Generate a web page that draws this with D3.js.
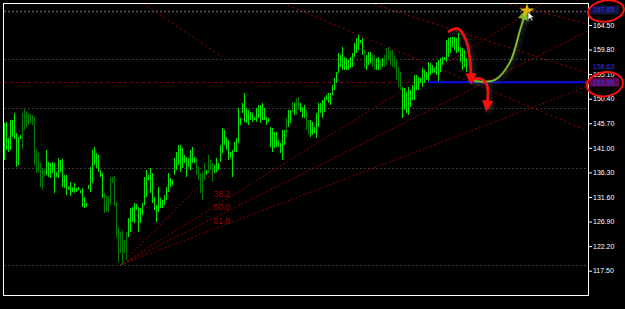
<!DOCTYPE html>
<html>
<head>
<meta charset="utf-8">
<script src="https://cdn.jsdelivr.net/npm/d3@7"></script>
<style>
  html, body { margin: 0; padding: 0; background: #000; }
  svg { display: block; }
</style>
</head>
<body>
<div id="chart"></div>
<script>
// price bars, one every 2px
var barHigh = [
  145.8,145.9,142.9,146.3,146.3,147.7,143.8,143.1,143.5,147.7,
  148.4,148.0,147.7,147.5,147.3,146.9,140.6,140.0,138.1,137.1,
  136.8,140.6,138.3,138.1,138.3,138.1,136.4,139.1,138.7,138.9,
  135.8,135.8,133.5,134.5,133.5,134.3,133.3,133.5,132.9,133.3,
  131.6,130.4,133.9,137.3,140.6,141.2,140.0,139.6,136.8,136.2,
  132.4,131.8,131.8,135.4,135.4,135.6,130.6,125.9,124.9,125.3,
  123.4,124.9,127.6,129.5,129.7,130.4,130.3,129.7,129.5,130.4,
  135.4,136.8,135.8,137.1,136.2,131.6,130.1,133.5,131.4,131.0,
  132.0,133.5,136.2,135.2,134.9,139.1,140.2,141.5,141.5,141.0,
  139.6,139.3,139.1,140.6,141.2,139.3,139.1,137.3,136.2,136.4,
  138.1,136.8,139.6,138.7,138.1,137.7,139.1,138.1,141.5,144.8,
  144.4,143.1,142.5,140.2,140.6,142.1,142.9,148.6,146.7,149.6,
  151.5,148.6,148.2,147.9,147.7,146.9,148.6,149.2,149.2,149.6,
  148.6,146.9,146.7,145.0,144.8,144.0,144.0,142.5,142.0,144.4,
  144.4,146.7,148.2,148.2,149.8,149.6,150.5,150.7,149.6,148.8,
  149.2,148.2,146.3,146.3,145.9,145.0,147.7,149.6,149.6,150.2,
  150.7,151.1,151.5,151.5,153.0,154.4,155.5,159.1,158.8,160.3,
  158.4,158.2,157.8,158.4,159.1,161.1,162.0,162.6,161.6,162.0,
  159.7,158.8,159.3,159.3,158.8,158.8,158.2,158.4,157.8,158.2,
  158.8,160.1,160.3,159.7,159.7,158.8,157.8,156.5,155.5,152.6,
  152.4,151.7,152.6,152.1,153.0,154.9,154.9,154.6,154.4,156.3,
  155.9,155.5,157.4,157.2,156.8,156.3,157.4,157.8,158.2,158.4,
  158.4,161.6,162.0,162.2,162.2,162.2,162.0,163.0,160.3,160.1,
  159.7,158.2
];
var barLow = [
  138.7,140.6,140.2,140.6,143.1,142.7,137.3,137.7,142.7,140.8,
  144.4,145.0,145.4,145.8,145.4,137.7,136.2,136.4,133.5,132.9,
  135.4,135.8,135.4,135.2,136.2,132.4,135.4,135.2,136.4,133.5,
  133.3,132.0,132.9,131.8,132.6,132.4,132.6,132.9,132.4,129.7,
  129.5,129.7,133.1,132.6,134.3,137.7,137.1,136.4,135.4,131.4,
  128.5,128.7,128.7,130.1,134.3,129.9,123.8,119.2,120.9,118.6,
  120.9,119.5,124.0,124.9,126.8,126.6,129.1,124.9,126.6,128.2,
  130.1,131.6,134.9,132.4,130.4,129.1,126.8,128.7,129.5,129.5,
  130.1,131.0,132.6,133.5,133.9,135.8,136.8,137.7,136.4,137.1,
  138.1,135.4,137.3,136.8,138.1,138.1,135.8,134.9,132.4,131.0,
  134.9,135.8,136.2,136.8,134.5,136.2,136.4,136.8,138.3,140.0,
  141.5,140.6,138.7,139.1,135.4,140.2,140.2,142.0,145.4,147.7,
  145.9,145.8,145.4,146.3,145.9,146.3,145.9,146.7,145.8,146.3,
  146.3,145.4,145.9,141.2,140.2,141.0,141.2,141.2,140.0,138.7,
  141.5,143.1,145.0,145.8,147.9,147.3,147.3,148.2,147.9,146.7,
  146.7,144.4,143.5,143.1,143.5,143.8,142.9,145.0,147.7,146.7,
  147.9,150.2,149.6,149.2,151.1,152.1,153.4,155.3,156.5,155.9,
  155.9,155.9,155.9,156.3,156.5,158.4,159.1,159.7,161.1,158.8,
  156.3,155.9,156.8,157.2,156.5,155.9,155.9,155.9,155.9,156.5,
  156.5,156.8,157.8,156.8,156.5,156.3,154.0,152.6,152.1,146.7,
  148.2,147.7,147.3,148.8,150.2,150.2,152.1,152.1,153.4,152.6,
  153.4,154.0,153.6,154.9,155.3,155.3,154.9,153.6,155.5,156.8,
  157.8,157.4,158.4,159.1,160.3,159.7,159.1,159.3,157.4,155.9,
  156.5,155.5
];
// bar index ranges that closed down (dark green)
var downRanges = [[9,20],[50,61],[96,100],[102,104],[141,141],[144,144],[146,147],
                  [151,152],[180,180],[184,185],[188,188],[190,198]];

var yTicks = [164.50,159.80,155.10,150.40,145.70,141.00,136.30,131.60,126.90,122.20,117.50];
var grayLevels = [167.25,158.0,148.62,137.14,118.59];
var redLevel = 153.55;
var blueLevel = 153.55;
var blueFrom = 212;      // bar index where the blue line starts
var markTop = 167.85, markMid = 156.63, markLine = 153.55;

// fibo fan: origin (low) and second point, levels
var fanFrom = [58, 118.6];
var fanTo = [115.5, 140.6];
var fanLevels = [38.2, 50.0, 61.8];

// dashed trend lines [idx0, price0, idx1, price1]
var trendLines = [
  [69.5,168.7,109,158.4],
  [139.5,168.7,292,144.2],
  [183,168.7,292,155.3],
  [250.5,168.7,292,164.7]
];

// hand drawn arrows [idx, price]
var redArrowA = [[222,163.2],[227,163.8],[231,161.6],[233,157.8],[233.5,154.2]];
var redArrowB = [[234,154.0],[238.5,154.2],[241.5,153.0],[241.5,149.0]];
var greenArrow = [[235,153.8],[245.5,154.0],[253,157.4],[258,163.5],[260.5,166.6]];

var width = 625, height = 309;

var svg = d3.select("#chart").append("svg")
    .attr("width", width)
    .attr("height", height);

svg.append("rect").attr("width", width).attr("height", height).attr("fill", "#000");

var defs = svg.append("defs");
defs.append("clipPath").attr("id", "plot")
  .append("rect").attr("x", 4).attr("y", 4).attr("width", 584).attr("height", 291);

var shadow = defs.append("filter").attr("id", "shadow")
    .attr("x", "-50%").attr("y", "-50%").attr("width", "200%").attr("height", "200%");
shadow.append("feDropShadow").attr("dx", 2).attr("dy", 2)
    .attr("stdDeviation", 2).attr("flood-color", "#555").attr("flood-opacity", 0.6);

function marker(id, color) {
  defs.append("marker").attr("id", id)
      .attr("viewBox", "0 0 10 10").attr("refX", 5).attr("refY", 5)
      .attr("markerUnits", "userSpaceOnUse")
      .attr("markerWidth", 11).attr("markerHeight", 11)
      .attr("orient", "auto")
    .append("path").attr("d", "M0,0L10,5L0,10Z").attr("fill", color);
}
marker("redHead", "#ff1010");
marker("greenHead", "#7cbb2c");

var x = d3.scaleLinear().domain([0, barHigh.length - 1]).range([4, 466]);
var y = d3.scaleLinear().domain([164.5, 117.5]).range([25, 270.7]);

var plot = svg.append("g").attr("clip-path", "url(#plot)");

// horizontal levels
plot.selectAll("line.level").data(grayLevels).join("line")
    .attr("class", "level")
    .attr("x1", 4).attr("x2", 588)
    .attr("y1", d => Math.round(y(d)) + 0.5).attr("y2", d => Math.round(y(d)) + 0.5)
    .attr("stroke", (d, i) => i == 0 ? "#555" : "#3a3a3a")
    .attr("stroke-width", (d, i) => i == 0 ? 1.6 : 1)
    .attr("stroke-dasharray", "2,2");

plot.append("line")
    .attr("x1", 4).attr("x2", 588)
    .attr("y1", Math.round(y(redLevel)) + 0.5).attr("y2", Math.round(y(redLevel)) + 0.5)
    .attr("stroke", "#780018").attr("stroke-dasharray", "3,3");

// trend lines
plot.selectAll("line.trend").data(trendLines).join("line")
    .attr("class", "trend")
    .attr("x1", d => x(d[0])).attr("y1", d => y(d[1]))
    .attr("x2", d => x(d[2])).attr("y2", d => y(d[3]))
    .attr("stroke", "#a00000").attr("stroke-dasharray", "2,3");

// fibo fan
var ox = x(fanFrom[0]), oy = y(fanFrom[1]);
plot.append("line")
    .attr("x1", ox).attr("y1", oy)
    .attr("x2", x(fanTo[0])).attr("y2", y(fanTo[1]))
    .attr("stroke", "#a00000").attr("stroke-dasharray", "2,2");

fanLevels.forEach(function (lv) {
  var p = fanTo[1] - lv / 100 * (fanTo[1] - fanFrom[1]);
  var px = x(fanTo[0]), py = y(p);
  var k = (x(292) - ox) / (px - ox);
  plot.append("line")
      .attr("x1", ox).attr("y1", oy)
      .attr("x2", ox + (px - ox) * k).attr("y2", oy + (py - oy) * k)
      .attr("stroke", "#8b0000").attr("stroke-dasharray", "2,2");
  plot.append("text")
      .attr("x", px - 5).attr("y", py + 3)
      .attr("text-anchor", "end")
      .attr("font-family", "Liberation Sans, Arial, sans-serif")
      .attr("font-size", 8.5)
      .attr("fill", "#a00000")
      .text(lv.toFixed(1));
});

// bars
var bars = barHigh.map(function (h, i) {
  var down = downRanges.some(r => i >= r[0] && i <= r[1]);
  return { i: i, h: h, l: barLow[i], up: !down };
});

plot.selectAll("rect.bar").data(bars).join("rect")
    .attr("class", "bar")
    .attr("x", d => x(d.i))
    .attr("width", 1)
    .attr("y", d => Math.round(y(d.h)))
    .attr("height", d => Math.max(1, Math.round(y(d.l)) - Math.round(y(d.h))))
    .attr("fill", d => d.up ? "#00e600" : "#007a00");

// blue line
plot.append("line")
    .attr("x1", x(blueFrom)).attr("x2", 589)
    .attr("y1", y(blueLevel)).attr("y2", y(blueLevel))
    .attr("stroke", "#0a0ae6").attr("stroke-width", 2);

// hand drawn arrows
var curve = d3.line().x(d => x(d[0])).y(d => y(d[1])).curve(d3.curveCatmullRom);
var ann = svg.append("g").attr("filter", "url(#shadow)");

ann.append("path").attr("d", curve(greenArrow))
    .attr("fill", "none").attr("stroke", "#7cbb2c").attr("stroke-width", 2)
    .attr("marker-end", "url(#greenHead)");
ann.append("path").attr("d", curve(redArrowA))
    .attr("fill", "none").attr("stroke", "#ff1010").attr("stroke-width", 2.5)
    .attr("marker-end", "url(#redHead)");
ann.append("path").attr("d", curve(redArrowB))
    .attr("fill", "none").attr("stroke", "#ff1010").attr("stroke-width", 2.5)
    .attr("marker-end", "url(#redHead)");

// sparkle at the green arrow tip
var tip = greenArrow[greenArrow.length - 1];
svg.append("path")
    .attr("d", d3.symbol(d3.symbolStar, 70)())
    .attr("transform", "translate(" + (x(tip[0]) + 2) + "," + (y(tip[1]) - 3) + ")")
    .attr("fill", "#e0b400");
svg.append("path")
    .attr("d", "M0,0L0,8L2,6L4,9L5,8.5L3.5,5.5L6,5.5Z")
    .attr("transform", "translate(" + (x(tip[0]) + 3) + "," + (y(tip[1]) - 2) + ")")
    .attr("fill", "#fff").attr("stroke", "#000").attr("stroke-width", 0.5);

// frame
svg.append("rect")
    .attr("x", 3.5).attr("y", 3.5).attr("width", 585).attr("height", 292)
    .attr("fill", "none").attr("stroke", "#fff");

// price axis
var axis = svg.append("g")
    .attr("transform", "translate(589,0)")
    .call(d3.axisRight(y).tickValues(yTicks).tickSize(3).tickPadding(1)
      .tickFormat(d3.format(".2f")));
axis.select(".domain").remove();
axis.selectAll("line").attr("stroke", "#fff");
axis.selectAll("text")
    .attr("fill", "#fff")
    .attr("font-family", "Liberation Sans, Arial, sans-serif")
    .attr("font-size", 7);

// blue price marks
function priceMark(v, bg, yy) {
  if (bg) {
    svg.append("rect").attr("x", 590).attr("y", yy - 4.5)
        .attr("width", 29).attr("height", 9).attr("fill", bg);
  }
  svg.append("text")
      .attr("x", 593).attr("y", yy)
      .attr("dy", "0.35em")
      .attr("font-family", "Liberation Sans, Arial, sans-serif")
      .attr("font-size", 7)
      .attr("fill", "#3030ff")
      .text(v.toFixed(2));
}
priceMark(markTop, "#14143c", Math.max(y(markTop), 10));
priceMark(markMid, null, y(markMid));
priceMark(markLine, "#5c0c4c", y(markLine));
svg.append("rect").attr("x", 585).attr("y", y(markLine) - 2)
    .attr("width", 4).attr("height", 4).attr("fill", "#8a0010");

// red circles round the marks
svg.append("ellipse")
    .attr("cx", 606).attr("cy", Math.max(y(markTop), 10) + 1)
    .attr("rx", 18).attr("ry", 10.5)
    .attr("fill", "none").attr("stroke", "#ff1010").attr("stroke-width", 2)
    .attr("transform", "rotate(-8,606," + (Math.max(y(markTop), 10) + 1) + ")");
svg.append("ellipse")
    .attr("cx", 605).attr("cy", y(markLine) + 2)
    .attr("rx", 18).attr("ry", 12)
    .attr("fill", "none").attr("stroke", "#ff1010").attr("stroke-width", 2)
    .attr("transform", "rotate(-8,605," + (y(markLine) + 2) + ")");
</script>
</body>
</html>
